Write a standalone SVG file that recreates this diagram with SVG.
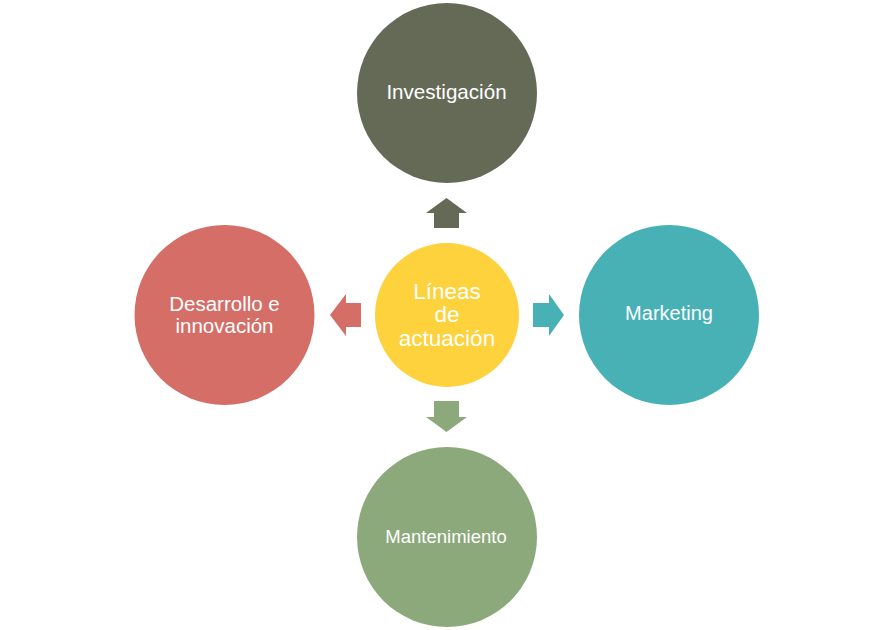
<svg xmlns="http://www.w3.org/2000/svg" width="894" height="630" viewBox="0 0 894 630">
<style>
.lbl{font-family:"Liberation Sans",Arial,sans-serif;fill:#ffffff;text-anchor:middle}
</style>
<rect width="894" height="630" fill="#ffffff"/>
<g id="connectors">
<polygon fill="#656a57" points="434,228 434,213 426,213 446.5,198 467,213 459,213 459,228"/>
<polygon fill="#8ca97b" points="434,401 434,417 426,417 446.5,432 467,417 459,417 459,401"/>
<polygon fill="#d46e67" points="361,303 346,303 346,294 330,315 346,336 346,327 361,327"/>
<polygon fill="#47b1b5" points="533,303 549,303 549,294 564,315 549,336 549,327 533,327"/>
</g>
<g id="center">
<circle cx="447" cy="315" r="72" fill="#fdd23c"/>
<text class="lbl" font-size="22.5"><tspan x="447" y="299">Líneas</tspan><tspan x="447" y="322.3">de</tspan><tspan x="447" y="345.7">actuación</tspan></text>
</g>
<g id="investigacion">
<circle cx="447" cy="93" r="90" fill="#656a57"/>
<text class="lbl" font-size="20.6" x="446.5" y="99">Investigación</text>
</g>
<g id="marketing">
<circle cx="669" cy="315" r="90" fill="#47b1b5"/>
<text class="lbl" font-size="20" x="669" y="320">Marketing</text>
</g>
<g id="mantenimiento">
<circle cx="447" cy="537" r="90" fill="#8ca97b"/>
<text class="lbl" font-size="18.5" x="446" y="543">Mantenimiento</text>
</g>
<g id="desarrollo">
<circle cx="224.5" cy="315" r="90" fill="#d46e67"/>
<text class="lbl" font-size="20.5"><tspan x="224.5" y="310.7">Desarrollo e</tspan><tspan x="224.5" y="333">innovación</tspan></text>
</g>
</svg>
